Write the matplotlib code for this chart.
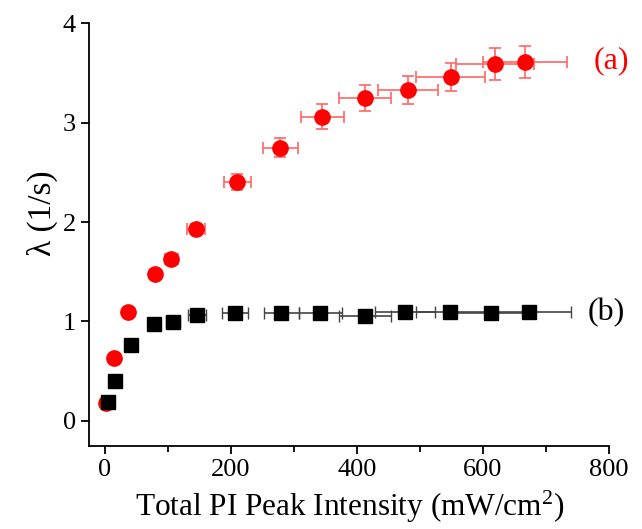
import numpy as np
import matplotlib
matplotlib.use('Agg')
import matplotlib.pyplot as plt

plt.rcParams['font.family'] = ['Liberation Serif', 'DejaVu Serif']
plt.rcParams['mathtext.fontset'] = 'custom'
plt.rcParams['mathtext.rm'] = 'Liberation Serif'
plt.rcParams['mathtext.it'] = 'Liberation Serif:italic'

# (a) red circles
x_a = [2, 15, 37, 79, 105, 144, 210, 278, 345, 413, 481, 549, 619, 666]
y_a = [0.18, 0.63, 1.10, 1.48, 1.63, 1.93, 2.40, 2.75, 3.06, 3.25, 3.33, 3.46, 3.59, 3.61]
xerr_a = [0.2, 1.5, 3.7, 7.9, 10.5, 14.4, 21.0, 27.8, 34.5, 41.3, 48.1, 54.9, 61.9, 66.6]
yerr_a = [0.01, 0.02, 0.03, 0.04, 0.04, 0.05, 0.08, 0.10, 0.125, 0.13, 0.14, 0.14, 0.16, 0.16]

# (b) black squares
x_b = [5, 16, 42, 78, 108, 146, 207, 280, 342, 413, 476, 548, 612, 673]
y_b = [0.19, 0.40, 0.76, 0.97, 0.99, 1.06, 1.09, 1.09, 1.09, 1.05, 1.10, 1.10, 1.09, 1.10]
xerr_b = [0.5, 1.6, 4.2, 7.8, 10.8, 14.6, 20.7, 28.0, 34.2, 41.3, 47.6, 54.8, 61.2, 67.3]

fig = plt.figure(figsize=(6.42, 5.29), dpi=100)
ax = fig.add_axes([0.139, 0.1575, 0.8096, 0.7985])

ax.errorbar(x_a, y_a, xerr=xerr_a, yerr=yerr_a, fmt='o', color='#ff0000',
            markersize=11, ecolor='#ff6666', elinewidth=1.2, capsize=4,
            capthick=1.2, zorder=3)
ax.errorbar(x_b, y_b, xerr=xerr_b, fmt='s', color='black',
            markersize=10, ecolor='#444444', elinewidth=1.2, capsize=4,
            capthick=1.0, zorder=4)

ax.set_xlim(-25, 800)
ax.set_ylim(-0.25, 4)
ax.set_xticks([0, 200, 400, 600, 800])
ax.set_xticks([100, 300, 500, 700], minor=True)
ax.set_yticks([0, 1, 2, 3, 4])

for s in ['top', 'right']:
    ax.spines[s].set_visible(False)
for s in ['left', 'bottom']:
    ax.spines[s].set_linewidth(1.3)

ax.tick_params(axis='both', which='major', direction='out', length=6,
               width=1.3, labelsize=19)
ax.tick_params(axis='x', which='minor', direction='out', length=4, width=1.3)

ax.set_xlabel('Total PI Peak Intensity (mW/cm$^2$)', fontsize=22.5, labelpad=6)
ax.set_ylabel('λ (1/s)', fontsize=24)
ax.yaxis.set_label_coords(-0.06, 0.55)

fig.text(0.924, 0.885, '(a)', color='#ff0000', fontsize=23, ha='left', va='center')
fig.text(0.915, 0.41, '(b)', color='black', fontsize=23, ha='left', va='center')

fig.savefig('out.png', dpi=100)
